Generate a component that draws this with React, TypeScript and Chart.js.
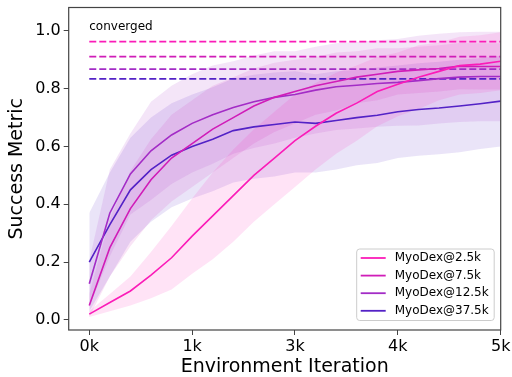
import React, { useEffect, useRef } from "react";
import { Chart, registerables } from "chart.js";

Chart.register(...registerables);

const xSteps = [0, 0.2, 0.4, 0.6, 0.8, 1.0, 1.2, 1.4, 1.6, 1.8, 2.0, 2.2, 2.4, 2.6, 2.8, 3.0, 3.2, 3.4, 3.6, 3.8, 4.0];
const xTickValues = [0, 1, 2, 3, 4];
const xTickLabels = ["0k", "1k", "3k", "4k", "5k"];
const yTickValues = [0, 0.2, 0.4, 0.6, 0.8, 1.0];

const seriesNames = ["MyoDex@2.5k", "MyoDex@7.5k", "MyoDex@12.5k", "MyoDex@37.5k"];
const seriesColors = ["#fb1cb8", "#d01db8", "#a32cc6", "#5322c6"];

const mean25 = [0.02, 0.06, 0.10, 0.155, 0.215, 0.29, 0.36, 0.43, 0.50, 0.56, 0.62, 0.67, 0.715, 0.75, 0.79, 0.815, 0.84, 0.86, 0.88, 0.885, 0.895];
const std25 = [0.01, 0.03, 0.05, 0.08, 0.11, 0.13, 0.15, 0.16, 0.16, 0.16, 0.16, 0.15, 0.14, 0.13, 0.12, 0.11, 0.11, 0.10, 0.10, 0.10, 0.10];

const mean75 = [0.05, 0.25, 0.385, 0.485, 0.56, 0.61, 0.66, 0.70, 0.74, 0.77, 0.79, 0.81, 0.825, 0.84, 0.85, 0.86, 0.865, 0.87, 0.878, 0.877, 0.877];
const std75 = [0.04, 0.10, 0.13, 0.14, 0.15, 0.15, 0.15, 0.14, 0.13, 0.12, 0.11, 0.10, 0.10, 0.09, 0.09, 0.08, 0.08, 0.08, 0.08, 0.08, 0.08];

const mean125 = [0.125, 0.37, 0.505, 0.585, 0.64, 0.68, 0.71, 0.735, 0.755, 0.77, 0.78, 0.795, 0.807, 0.812, 0.818, 0.822, 0.828, 0.835, 0.84, 0.842, 0.842];
const std125 = [0.08, 0.15, 0.14, 0.17, 0.17, 0.17, 0.17, 0.16, 0.16, 0.16, 0.15, 0.15, 0.15, 0.15, 0.15, 0.15, 0.155, 0.155, 0.155, 0.155, 0.155];

const mean375 = [0.20, 0.33, 0.45, 0.52, 0.57, 0.60, 0.625, 0.655, 0.668, 0.676, 0.685, 0.68, 0.69, 0.70, 0.708, 0.72, 0.728, 0.733, 0.74, 0.748, 0.757];
const std375 = [0.17, 0.18, 0.18, 0.18, 0.18, 0.18, 0.18, 0.18, 0.18, 0.18, 0.175, 0.17, 0.17, 0.165, 0.165, 0.16, 0.16, 0.16, 0.16, 0.157, 0.157];

const convergedValues = [0.963, 0.911, 0.868, 0.834];
const convergedText = "converged";
const convergedTextY = 1.015;

const FONT = "'DejaVu Sans', sans-serif";

function hexA(hex: string, a: number) {
  const r = parseInt(hex.slice(1, 3), 16);
  const g = parseInt(hex.slice(3, 5), 16);
  const b = parseInt(hex.slice(5, 7), 16);
  return `rgba(${r},${g},${b},${a})`;
}

export default function App() {
  const ref = useRef<HTMLCanvasElement | null>(null);

  useEffect(() => {
    if (!ref.current) return;
    const means = [mean25, mean75, mean125, mean375];
    const stds = [std25, std75, std125, std375];
    const datasets: any[] = [];

    means.forEach((m, i) => {
      datasets.push({
        label: seriesNames[i],
        data: xSteps.map((x, k) => ({ x, y: m[k] })),
        borderColor: seriesColors[i],
        borderWidth: 1.6,
        pointRadius: 0,
        fill: false,
        order: 0,
      });
    });
    convergedValues.forEach((v, i) => {
      datasets.push({
        label: "conv" + i,
        data: [{ x: xSteps[0], y: v }, { x: xSteps[xSteps.length - 1], y: v }],
        borderColor: seriesColors[i],
        borderWidth: 1.8,
        borderDash: [7, 3],
        pointRadius: 0,
        fill: false,
        order: 1,
      });
    });
    means.forEach((m, i) => {
      const lowIdx = datasets.length;
      datasets.push({
        label: "low" + i,
        data: xSteps.map((x, k) => ({ x, y: m[k] - stds[i][k] })),
        borderWidth: 0,
        borderColor: "rgba(0,0,0,0)",
        pointRadius: 0,
        fill: false,
        order: 2,
      });
      datasets.push({
        label: "high" + i,
        data: xSteps.map((x, k) => ({ x, y: m[k] + stds[i][k] })),
        borderWidth: 0,
        borderColor: "rgba(0,0,0,0)",
        backgroundColor: hexA(seriesColors[i], 0.12),
        pointRadius: 0,
        fill: { target: lowIdx },
        order: 2,
      });
    });

    const overlay = {
      id: "overlay",
      afterDatasetsDraw(chart: any) {
        const ctx = chart.ctx;
        const xs = chart.scales.x;
        const ys = chart.scales.y;
        const ca = chart.chartArea;
        ctx.save();
        ctx.font = `12px ${FONT}`;
        ctx.fillStyle = "#000";
        ctx.textAlign = "left";
        ctx.textBaseline = "middle";
        ctx.fillText(convergedText, xs.getPixelForValue(0), ys.getPixelForValue(convergedTextY));
        ctx.strokeStyle = "#444";
        ctx.lineWidth = 1.2;
        ctx.strokeRect(ca.left, ca.top, ca.right - ca.left, ca.bottom - ca.top);
        const bx = ca.right - 144, by = ca.bottom - 81, bw = 137.5, bh = 71.5;
        ctx.beginPath();
        const r = 3;
        ctx.moveTo(bx + r, by);
        ctx.lineTo(bx + bw - r, by);
        ctx.quadraticCurveTo(bx + bw, by, bx + bw, by + r);
        ctx.lineTo(bx + bw, by + bh - r);
        ctx.quadraticCurveTo(bx + bw, by + bh, bx + bw - r, by + bh);
        ctx.lineTo(bx + r, by + bh);
        ctx.quadraticCurveTo(bx, by + bh, bx, by + bh - r);
        ctx.lineTo(bx, by + r);
        ctx.quadraticCurveTo(bx, by, bx + r, by);
        ctx.closePath();
        ctx.fillStyle = "rgba(255,255,255,0.8)";
        ctx.fill();
        ctx.strokeStyle = "#cccccc";
        ctx.lineWidth = 1;
        ctx.stroke();
        seriesNames.forEach((name, i) => {
          const ry = by + 9 + i * 17.6;
          ctx.strokeStyle = seriesColors[i];
          ctx.lineWidth = 1.8;
          ctx.beginPath();
          ctx.moveTo(bx + 4, ry);
          ctx.lineTo(bx + 29, ry);
          ctx.stroke();
          ctx.fillStyle = "#000";
          ctx.font = `12px ${FONT}`;
          ctx.textAlign = "left";
          ctx.textBaseline = "middle";
          ctx.fillText(name, bx + 38, ry);
        });
        ctx.restore();
      },
    };

    const chart = new Chart(ref.current, {
      type: "line",
      data: { datasets },
      options: {
        animation: false,
        responsive: false,
        layout: { padding: { top: 7.5, right: 11.3, left: 0, bottom: 0 } },
        plugins: { legend: { display: false }, tooltip: { enabled: false } },
        elements: { line: { tension: 0 } },
        scales: {
          x: {
            type: "linear",
            min: -0.2,
            max: 4,
            afterBuildTicks: (s: any) => {
              s.ticks = xTickValues.map((v) => ({ value: v }));
            },
            afterFit: (s: any) => {
              s.height = 47;
              s.paddingLeft = 0;
              s.paddingRight = 0;
            },
            ticks: {
              callback: (v: any) => xTickLabels[xTickValues.indexOf(Number(v))] ?? "",
              font: { family: FONT, size: 16 },
              color: "#000",
              padding: 2,
              maxRotation: 0,
            },
            grid: { drawOnChartArea: false, drawTicks: true, tickLength: 5, tickColor: "#444", tickWidth: 1 },
            border: { display: false },
            title: {
              display: true,
              text: "Environment Iteration",
              font: { family: FONT, size: 19, lineHeight: 1 },
              color: "#000",
              padding: { top: 0, bottom: 0 },
            },
          },
          y: {
            type: "linear",
            min: -0.035,
            max: 1.081,
            afterBuildTicks: (s: any) => {
              s.ticks = yTickValues.map((v) => ({ value: v }));
            },
            afterFit: (s: any) => {
              s.width = 68.7;
              s.paddingTop = 0;
              s.paddingBottom = 0;
            },
            ticks: {
              callback: (v: any) => Number(v).toFixed(1),
              font: { family: FONT, size: 16 },
              color: "#000",
              padding: 3,
            },
            grid: { drawOnChartArea: false, drawTicks: true, tickLength: 5, tickColor: "#444", tickWidth: 1 },
            border: { display: false },
            title: {
              display: true,
              text: "Success Metric",
              font: { family: FONT, size: 19, lineHeight: 1 },
              color: "#000",
              padding: { top: 8, bottom: 0 },
            },
          },
        },
      },
      plugins: [overlay],
    } as any);
    return () => chart.destroy();
  }, []);

  return (
    <div style={{ position: "absolute", left: 0, top: 0, width: 512, height: 377, background: "#fff" }}>
      <canvas ref={ref} width={512} height={377} />
    </div>
  );
}
